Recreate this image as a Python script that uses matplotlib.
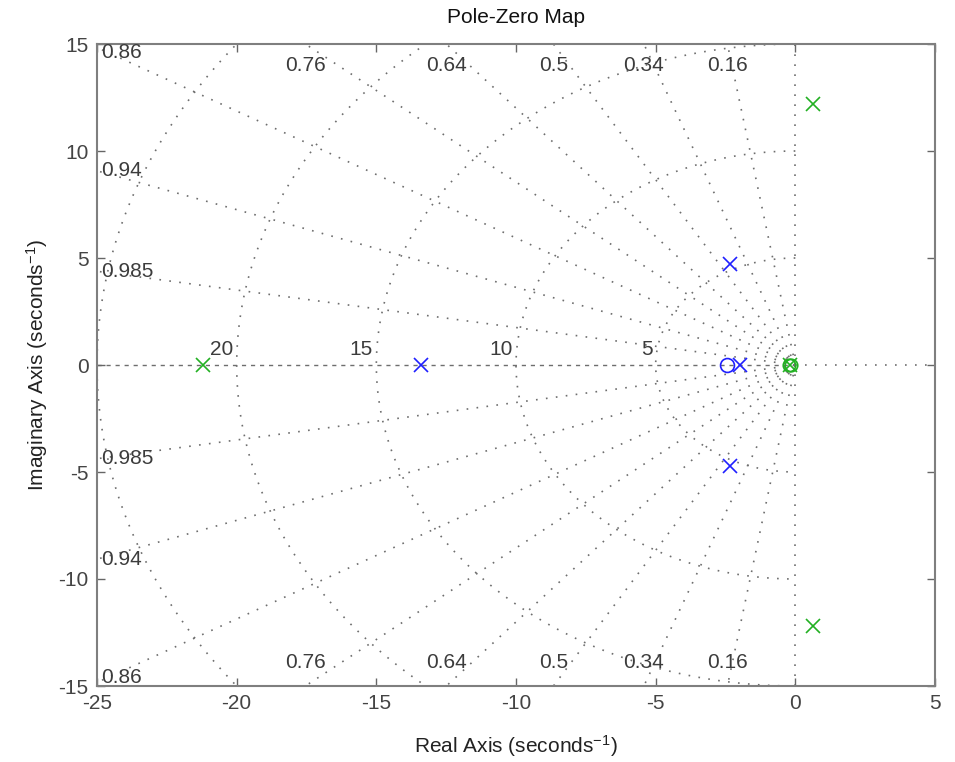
import numpy as np
import matplotlib
matplotlib.use("Agg")
from matplotlib import pyplot as plt

plt.rcParams['font.family'] = ['Liberation Sans', 'DejaVu Sans']
plt.rcParams['axes.unicode_minus'] = False
plt.rcParams['mathtext.default'] = 'regular'

# pole-zero data
sys1_pole_re = [-13.4, -2.34, -2.34, -1.98]
sys1_pole_im = [0.0, 4.72, -4.72, 0.0]
sys1_zero_re = [-2.45]
sys1_zero_im = [0.0]

sys2_pole_re = [-21.2, 0.65, 0.65, -0.2]
sys2_pole_im = [0.0, 12.2, -12.2, 0.0]
sys2_zero_re = [-0.15, -0.22]
sys2_zero_im = [0.0, 0.0]

# sgrid values
zeta_grid = [0.16, 0.34, 0.5, 0.64, 0.76, 0.86, 0.94, 0.985]
wn_grid = [5, 10, 15, 20, 25]

xlim = (-25, 5)
ylim = (-15, 15)
xticks = [-25, -20, -15, -10, -5, 0, 5]
yticks = [-15, -10, -5, 0, 5, 10, 15]

grid_col = '#6e6e6e'
text_col = '#3c3c3c'
dots = (0, (1, 5))
fs = 15

fig = plt.figure(figsize=(9.55, 7.62), dpi=100)
ax = fig.add_axes([97 / 955, 1 - 686 / 762, (935 - 97) / 955, (686 - 44) / 762])

# damping lines
R = 60
for z in zeta_grid:
    s = np.sqrt(1 - z**2)
    for sg in (1, -1):
        ax.plot([0, -R * z], [0, sg * R * s], color=grid_col, lw=1.2,
                linestyle=dots, zorder=1)
    xt = -ylim[1] * z / s
    if xt > xlim[0]:
        ax.text(xt, 14.0, str(z), ha='center', va='center', fontsize=fs, color=text_col)
        ax.text(xt, -13.9, str(z), ha='center', va='center', fontsize=fs, color=text_col)
    else:
        yt = min(-xlim[0] * s / z, 14.6)
        ax.text(xlim[0] + 0.15, yt, str(z), ha='left', va='center', fontsize=fs, color=text_col)
        ax.text(xlim[0] + 0.15, -yt, str(z), ha='left', va='center', fontsize=fs, color=text_col)

# natural frequency circles
th = np.linspace(np.pi / 2, 3 * np.pi / 2, 400)
for wn in wn_grid:
    ax.plot(wn * np.cos(th), wn * np.sin(th), color=grid_col, lw=1.2,
            linestyle=dots, zorder=1)
    if wn < -xlim[0]:
        ax.text(-wn - 0.12, 0.3, str(wn), ha='right', va='bottom', fontsize=fs, color=text_col)

# axes lines
ax.plot([xlim[0], 0], [0, 0], color=grid_col, lw=1.0, linestyle=(0, (3, 3.5)), zorder=1)
ax.plot([0, xlim[1]], [0, 0], color=grid_col, lw=1.2, linestyle=dots, zorder=1)
ax.plot([0, 0], list(ylim), color=grid_col, lw=1.2, linestyle=dots, zorder=1)

# poles and zeros
blue = '#1f1fff'
green = '#22b022'
ax.plot(sys1_pole_re, sys1_pole_im, 'x', color=blue, ms=10, mew=1.2, zorder=3)
ax.plot(sys1_zero_re, sys1_zero_im, 'o', color=blue, mfc='none', ms=10, mew=1.2, zorder=3)
ax.plot(sys2_pole_re, sys2_pole_im, 'x', color=green, ms=10, mew=1.2, zorder=3)
ax.plot(sys2_zero_re, sys2_zero_im, 'o', color=green, mfc='none', ms=9, mew=1.2, zorder=3)

ax.set_xlim(*xlim)
ax.set_ylim(*ylim)
ax.set_xticks(xticks)
ax.set_yticks(yticks)
ax.tick_params(axis='both', which='both', direction='in', top=True, right=True,
               length=6, width=1, colors='#666666', labelcolor='#444444', labelsize=fs,
               pad=6)
for sp in ax.spines.values():
    sp.set_color('#7f7f7f')
    sp.set_linewidth(1.5)

ax.set_xlabel('Real Axis (seconds$^{-1}$)', fontsize=fs, color='#222222', labelpad=14)
ax.set_ylabel('Imaginary Axis (seconds$^{-1}$)', fontsize=fs, color='#222222', labelpad=6)
ax.set_title('Pole-Zero Map', fontsize=fs, color='#111111', pad=15)

fig.savefig('out.png', dpi=100)
